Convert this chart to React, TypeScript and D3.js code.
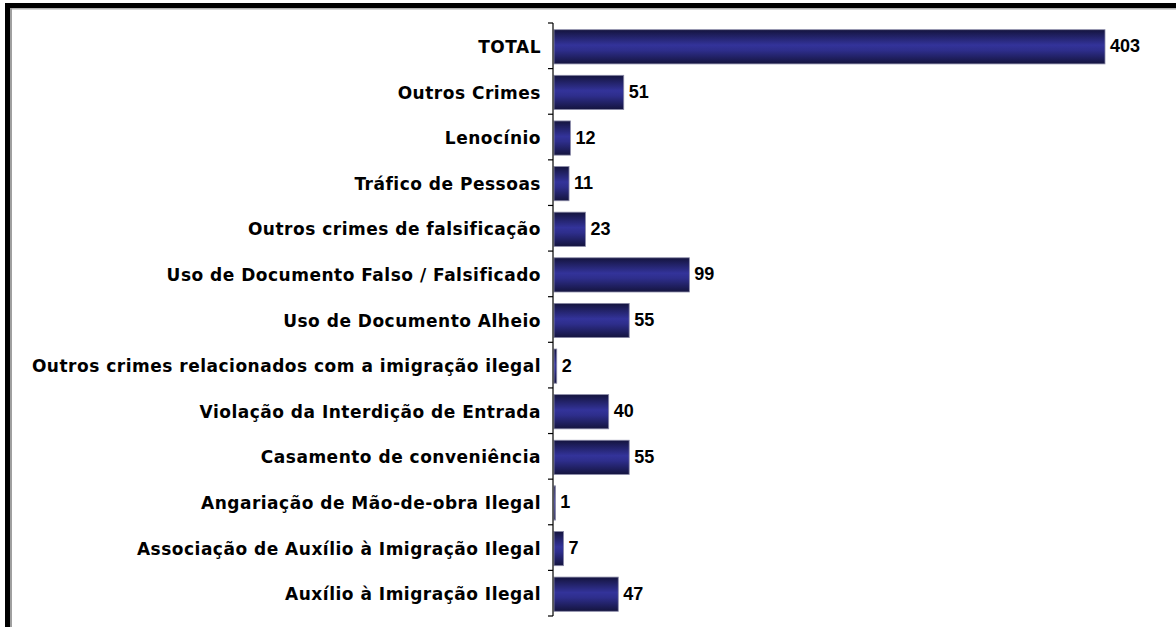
import React, { useEffect, useRef } from "react";
import * as d3 from "d3";

const categories = [
  "TOTAL",
  "Outros Crimes",
  "Lenocínio",
  "Tráfico de Pessoas",
  "Outros crimes de falsificação",
  "Uso de Documento Falso / Falsificado",
  "Uso de Documento Alheio",
  "Outros crimes relacionados com a imigração ilegal",
  "Violação da Interdição de Entrada",
  "Casamento de conveniência",
  "Angariação de Mão-de-obra Ilegal",
  "Associação de Auxílio à Imigração Ilegal",
  "Auxílio à Imigração Ilegal",
];
const values = [403, 51, 12, 11, 23, 99, 55, 2, 40, 55, 1, 7, 47];

export default function App() {
  const ref = useRef<SVGSVGElement>(null);

  useEffect(() => {
    const svg = d3.select(ref.current);
    svg.selectAll("*").remove();

    const width = 1176, height = 627;
    const x0 = 553;
    const x = d3.scaleLinear().domain([0, 403]).range([x0, 1104]);
    const y = d3.scaleBand<string>().domain(categories).range([23, 616]).paddingInner(0.25).paddingOuter(0.125);

    const defs = svg.append("defs");
    const grad = defs.append("linearGradient")
      .attr("id", "barGrad").attr("x1", 0).attr("x2", 0).attr("y1", 0).attr("y2", 1);
    grad.append("stop").attr("offset", "0%").attr("stop-color", "#14143e");
    grad.append("stop").attr("offset", "45%").attr("stop-color", "#33339a");
    grad.append("stop").attr("offset", "60%").attr("stop-color", "#2e2e8c");
    grad.append("stop").attr("offset", "100%").attr("stop-color", "#14143e");

    // frame
    svg.append("rect").attr("width", width).attr("height", height).attr("fill", "#fff");
    svg.append("rect").attr("x", 5).attr("y", 3).attr("width", width).attr("height", 5).attr("fill", "#000");
    svg.append("rect").attr("x", 5).attr("y", 3).attr("width", 5).attr("height", height).attr("fill", "#000");
    svg.append("rect").attr("x", 10).attr("y", 8).attr("width", width).attr("height", 1.5).attr("fill", "#b0b0b0");
    svg.append("rect").attr("x", 10).attr("y", 8).attr("width", 2).attr("height", height).attr("fill", "#a0a0a0");

    const rows = svg.append("g").selectAll("g").data(categories).enter().append("g");

    rows.append("rect")
      .attr("x", x0 + 1)
      .attr("y", d => y(d)! + 1)
      .attr("width", (d, i) => Math.max(x(values[i]) - x0, 1.5))
      .attr("height", y.bandwidth())
      .attr("fill", "url(#barGrad)")
      .attr("stroke", "#8a8aa8")
      .attr("stroke-width", 0.8);

    rows.append("text")
      .attr("x", 541)
      .attr("y", d => y(d)! + y.bandwidth() / 2 + 1)
      .attr("dy", "0.36em")
      .attr("text-anchor", "end")
      .attr("font-family", "DejaVu Sans, Verdana, sans-serif")
      .attr("font-weight", "bold")
      .attr("font-size", 17)
      .attr("letter-spacing", 0.5)
      .attr("fill", "#000")
      .text(d => d);

    rows.append("text")
      .attr("x", (d, i) => x(values[i]) + 6)
      .attr("y", d => y(d)! + y.bandwidth() / 2)
      .attr("dy", "0.36em")
      .attr("font-family", "Liberation Sans, Arial, sans-serif")
      .attr("font-weight", "bold")
      .attr("font-size", 18)
      .attr("fill", "#000")
      .text((d, i) => values[i]);

    // axis
    const axis = svg.append("g").attr("stroke", "#000").attr("stroke-width", 1.2);
    axis.append("line").attr("x1", x0).attr("x2", x0).attr("y1", 23).attr("y2", 616);
    const bounds = categories.map(c => y(c)! - (y.step() * y.paddingInner()) / 2).concat([616]);
    bounds[0] = 23;
    axis.selectAll("line.tick").data(bounds).enter().append("line")
      .attr("class", "tick")
      .attr("x1", x0 - 5).attr("x2", x0)
      .attr("y1", d => d).attr("y2", d => d);
  }, []);

  return (
    <div style={{ position: "absolute", left: 0, top: 0 }}>
      <svg ref={ref} width={1176} height={627} style={{ display: "block" }} />
    </div>
  );
}
